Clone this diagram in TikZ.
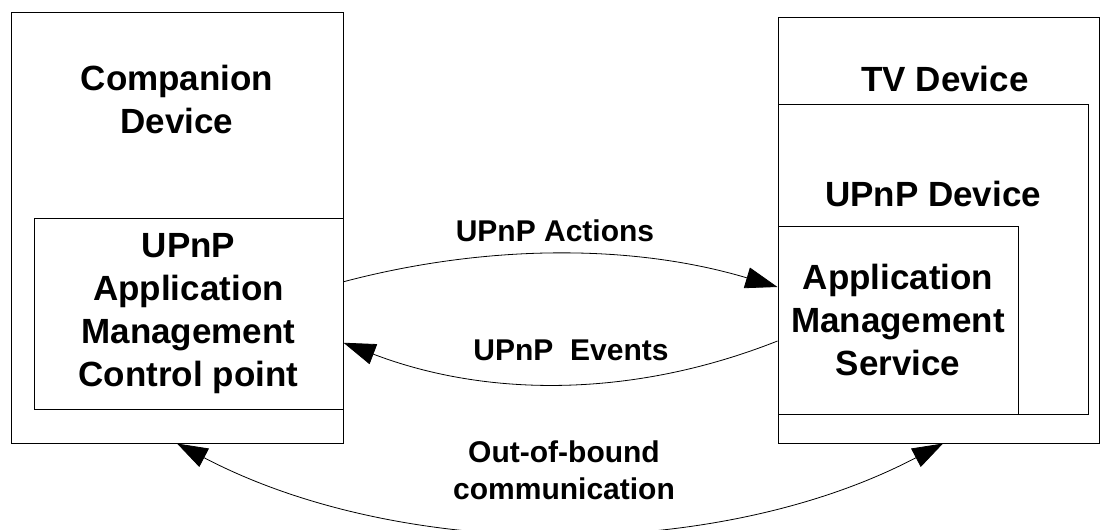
\documentclass[tikz,border=0pt]{standalone}
\usepackage{fontspec}
\setmainfont{Liberation Sans}
\usetikzlibrary{arrows.meta,fit}

\begin{document}
\begin{tikzpicture}[x=0.75pt, y=-0.75pt,
    box/.style={draw, line width=0.75pt, inner sep=0pt},
    big/.style={font=\fontsize{26.25}{32.25}\selectfont\bfseries, align=center, inner sep=0pt},
    lbl/.style={font=\fontsize{22.5}{27.75}\selectfont\bfseries, align=center, inner sep=0pt},
    tip/.style={-{Triangle[length=24pt, width=16pt]}, line width=0.6pt}]
\useasboundingbox (0,0) rectangle (1100,529);
% left side
\node[box, fit={(11,12.5) (343,443)}] (cd) {};
\node[box, fit={(34,218.5) (343,409)}] (cp) {};
\node[big] (cdtxt) at (177,99) {Companion\\Device};
\node[big] (cptxt) at (cp.center) {UPnP\\Application\\Management\\Control point};
% right side
\node[box, fit={(778,17.5) (1099,443)}] (tv) {};
\node[box, fit={(778,104.5) (1088,414)}] (ud) {};
\node[box, fit={(778,226) (1018,414)}] (ams) {};
\node[big] (tvtxt) at (945,79) {TV Device};
\node[big] (udtxt) at (933,194) {UPnP Device};
\node[big] (amstxt) at (ams.center) {Application\\Management\\Service};
% connectors
\draw[tip] ([yshift=24pt]cp.east) .. controls +(144,-38) and +(-144,-43) .. ([yshift=24.75pt]ams.west);
\draw[tip] ([yshift=-15.75pt]ams.west) .. controls +(-144,57) and +(144,55) .. ([yshift=-21.75pt]cp.east);
\draw[{Triangle[length=23pt, width=15.5pt]}-{Triangle[length=23pt, width=15.5pt]}, line width=0.6pt]
    (cd.south) .. controls +(225,118) and +(-225,118) .. ([xshift=3.4pt]tv.south);
\node[lbl] (act) at (555,231) {UPnP Actions};
\node[lbl] (evt) at (571,350) {UPnP\ \ Events};
\node[lbl] (oob) at (564,470) {Out-of-bound\\communication};
\end{tikzpicture}
\end{document}
